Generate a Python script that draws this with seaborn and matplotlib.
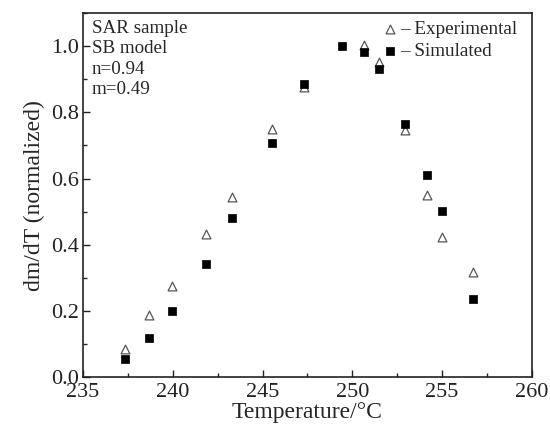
import pandas as pd
import matplotlib
matplotlib.use('Agg')
import matplotlib.pyplot as plt
import seaborn as sns
from matplotlib.ticker import MultipleLocator

temp_exp = [237.35, 238.7, 239.95, 241.85, 243.3, 245.5, 247.3, 250.65, 251.5, 252.95, 254.15, 255.0, 256.7]
dmdt_exp = [0.084, 0.187, 0.274, 0.431, 0.545, 0.750, 0.875, 1.004, 0.952, 0.747, 0.551, 0.422, 0.319]
temp_sim = [237.35, 238.7, 239.95, 241.85, 243.3, 245.5, 247.3, 249.45, 250.65, 251.5, 252.95, 254.15, 255.0, 256.7]
dmdt_sim = [0.054, 0.118, 0.199, 0.343, 0.482, 0.708, 0.884, 1.000, 0.982, 0.931, 0.765, 0.611, 0.503, 0.235]

exp = pd.DataFrame({'T': temp_exp, 'y': dmdt_exp})
sim = pd.DataFrame({'T': temp_sim, 'y': dmdt_sim})

sns.set_style('ticks')
plt.rcParams['font.family'] = ['Liberation Serif', 'DejaVu Serif']

fig = plt.figure(figsize=(5.5, 4.33), dpi=100)
ax = fig.add_axes([0.151, 0.129, 0.816, 0.841])

sns.scatterplot(data=exp, x='T', y='y', ax=ax, marker='^', s=40,
                facecolor='white', edgecolor='#555555', linewidth=0.9,
                label='– Experimental')
sns.scatterplot(data=sim, x='T', y='y', ax=ax, marker='s', s=32,
                color='black', edgecolor='black', linewidth=0.5,
                label='– Simulated')

ax.set_xlim(235, 260)
ax.set_ylim(0, 1.1)
ax.xaxis.set_major_locator(MultipleLocator(5))
ax.xaxis.set_minor_locator(MultipleLocator(2.5))
ax.yaxis.set_major_locator(MultipleLocator(0.2))
ax.yaxis.set_minor_locator(MultipleLocator(0.1))
ax.set_yticks([0.0, 0.2, 0.4, 0.6, 0.8, 1.0])
ax.set_yticklabels(['0.0', '0.2', '0.4', '0.6', '0.8', '1.0'])
ax.tick_params(which='major', direction='in', length=5, width=1, labelsize=16, colors='#222222')
ax.tick_params(which='minor', direction='in', length=3, width=1)
ax.tick_params(axis='x', pad=4)
ax.tick_params(axis='y', pad=3)
for sp in ax.spines.values():
    sp.set_linewidth(1.2)
    sp.set_color('#222222')

ax.set_xlabel('Temperature/°C', fontsize=17, labelpad=0)
ax.set_ylabel('dm/dT (normalized)', fontsize=17, labelpad=4)

ax.text(0.02, 0.982, 'SAR sample\nSB model\nn=0.94\nm=0.49', transform=ax.transAxes,
        va='top', ha='left', fontsize=13.7, linespacing=1.27)

leg = ax.legend(loc='upper right', frameon=False, fontsize=13.8, handletextpad=0.05,
                handlelength=1.0, borderaxespad=0.0, labelspacing=0.22,
                bbox_to_anchor=(0.985, 1.0))

fig.savefig('out.png', dpi=100)
